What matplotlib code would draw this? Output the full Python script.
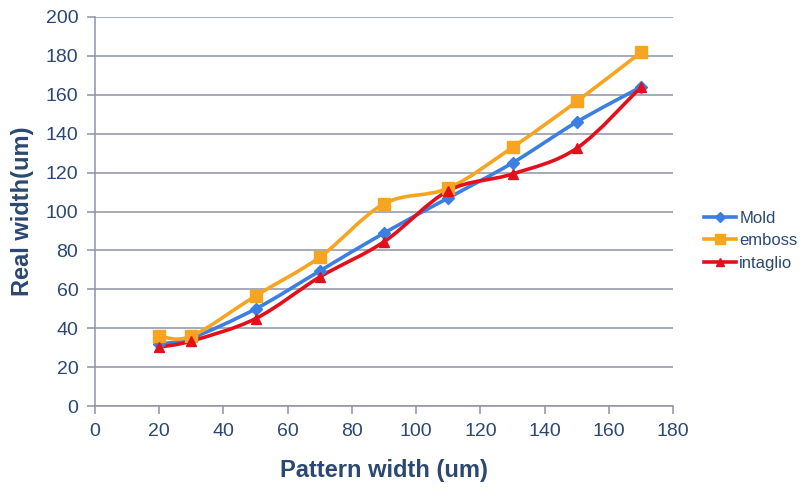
import numpy as np
import matplotlib
matplotlib.use('Agg')
import matplotlib.pyplot as plt
from matplotlib.path import Path
from matplotlib.patches import PathPatch
from matplotlib.lines import Line2D

plt.rcParams['font.family'] = ['Liberation Sans Narrow', 'Liberation Sans', 'DejaVu Sans']

# 数据
pattern_width = [20, 30, 50, 70, 90, 110, 130, 150, 170]
mold = [32, 35, 50, 69.5, 89, 107, 125, 146, 164]
emboss = [36, 36, 56.7, 76.6, 104, 112, 133, 156.6, 181.8]
intaglio = [30.4, 33.5, 45, 66.4, 84.5, 110.7, 119.3, 132.5, 164]

text_color = '#2b4872'
grid_color = '#8e93a6'


def smooth_path(xs, ys, t=1 / 6):
    # Excel 风格的平滑曲线 (Bezier 控制点)
    xs = np.asarray(xs, float)
    ys = np.asarray(ys, float)
    pts = np.column_stack([xs, ys])
    verts = [pts[0]]
    codes = [Path.MOVETO]
    n = len(pts)
    for i in range(n - 1):
        p0 = pts[i - 1] if i > 0 else pts[i]
        p1 = pts[i]
        p2 = pts[i + 1]
        p3 = pts[i + 2] if i + 2 < n else pts[i + 1]
        c1 = p1 + (p2 - p0) * t
        c2 = p2 - (p3 - p1) * t
        verts += [c1, c2, p2]
        codes += [Path.CURVE4] * 3
    return Path(verts, codes)


fig = plt.figure(figsize=(8.12, 4.96), dpi=100)
ax = fig.add_axes([0.117, 0.181, 0.712, 0.785])

series = [
    ('Mold', mold, '#3b80e0', 'D', 6),
    ('emboss', emboss, '#f7a420', 's', 9),
    ('intaglio', intaglio, '#e3101c', '^', 7),
]

handles = []
for name, vals, col, mk, ms in series:
    ax.add_patch(PathPatch(smooth_path(pattern_width, vals), facecolor='none',
                           edgecolor=col, lw=2.6, zorder=3))
    ax.plot(pattern_width, vals, linestyle='none', marker=mk, ms=ms,
            color=col, markeredgecolor=col, zorder=4)
    handles.append(Line2D([], [], color=col, lw=2.6, marker=mk, ms=ms * 0.8, label=name))

ax.set_xlim(0, 180)
ax.set_ylim(0, 200)
ax.set_xticks(range(0, 181, 20))
ax.set_yticks(range(0, 201, 20))
ax.yaxis.grid(True, color=grid_color, lw=1.1)
ax.set_axisbelow(True)
for s in ['top', 'right']:
    ax.spines[s].set_visible(False)
for s in ['left', 'bottom']:
    ax.spines[s].set_color(grid_color)
    ax.spines[s].set_linewidth(1.1)
ax.tick_params(axis='both', colors=grid_color, length=6, width=1.1, labelsize=14,
               labelcolor=text_color)
ax.tick_params(axis='x', pad=6)
ax.tick_params(axis='y', pad=6)

ax.set_xlabel('Pattern width (um)', fontsize=17, fontweight='bold', color=text_color, labelpad=14)
ax.set_ylabel('Real width(um)', fontsize=17, fontweight='bold', color=text_color, labelpad=8)

fig.legend(handles=handles, loc='center left', bbox_to_anchor=(0.855, 0.515), frameon=False,
           fontsize=12, labelcolor=text_color, handlelength=1.9, handletextpad=0.2,
           labelspacing=0.45, borderpad=0.1)

fig.savefig('out.png', dpi=100)
